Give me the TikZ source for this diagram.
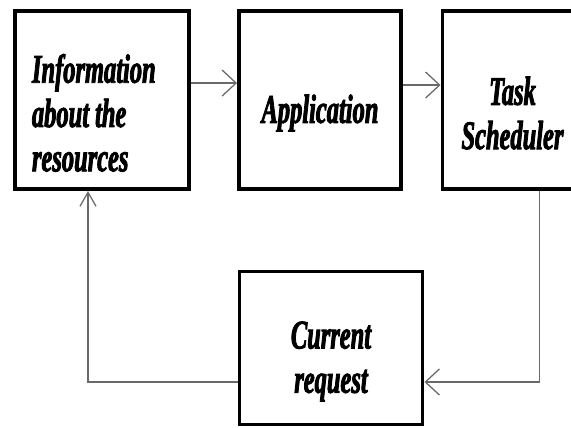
\documentclass[tikz,border=0pt]{standalone}
\usepackage{fontspec}
\usetikzlibrary{arrows.meta,positioning}
\newfontfamily\blockfont{Liberation Serif Bold Italic}[FakeStretch=0.6, FakeBold=2]
\newcommand{\lift}{\rule{0pt}{1.35cm}}
\definecolor{flowGray}{RGB}{105,105,105}

\begin{document}
\begin{tikzpicture}[x=1cm,y=1cm,
        block/.style={draw, rectangle, line width=2.8pt, align=center,
            font=\blockfont\fontsize{29}{31.5}\selectfont},
        flow/.style={draw=flowGray, line width=0.9pt,
            -{Straight Barb[length=0.35cm,width=0.65cm]}}]
            \clip (0,0) rectangle (14.275,10.7);

            \node[block, minimum width=4.35cm, minimum height=4.44cm,
                text width=3.5cm, inner xsep=0.425cm, align=left]
                (info) at (2.55,8.194) {\lift Information\\about\kern0.15cm the\\resources};
            \node[block, minimum width=4.05cm, minimum height=4.44cm]
                (app) at (8.0,8.194) {\lift Application};
            \node[block, minimum width=3.5cm, minimum height=4.44cm]
                (task) at (12.8125,8.194) {\lift Task\\Scheduler};
            \node[block, minimum width=4.575cm, minimum height=3.825cm]
                (req) at (8.275,2.0) {\lift Current\\request};

            \draw[flow] ([yshift=0.43cm]info.east) -- ([yshift=0.43cm]app.west);
            \draw[flow] ([yshift=0.38cm]app.east) -- ([yshift=0.38cm]task.west);
            \draw[flow] ([xshift=0.67cm]task.south) |- ([yshift=-0.85cm]req.east);
            \draw[flow, -{Straight Barb[length=0.35cm,width=0.4cm]}]
                ([yshift=-0.85cm]req.west) -| ([xshift=-0.35cm]info.south);
        \end{tikzpicture}
\end{document}
